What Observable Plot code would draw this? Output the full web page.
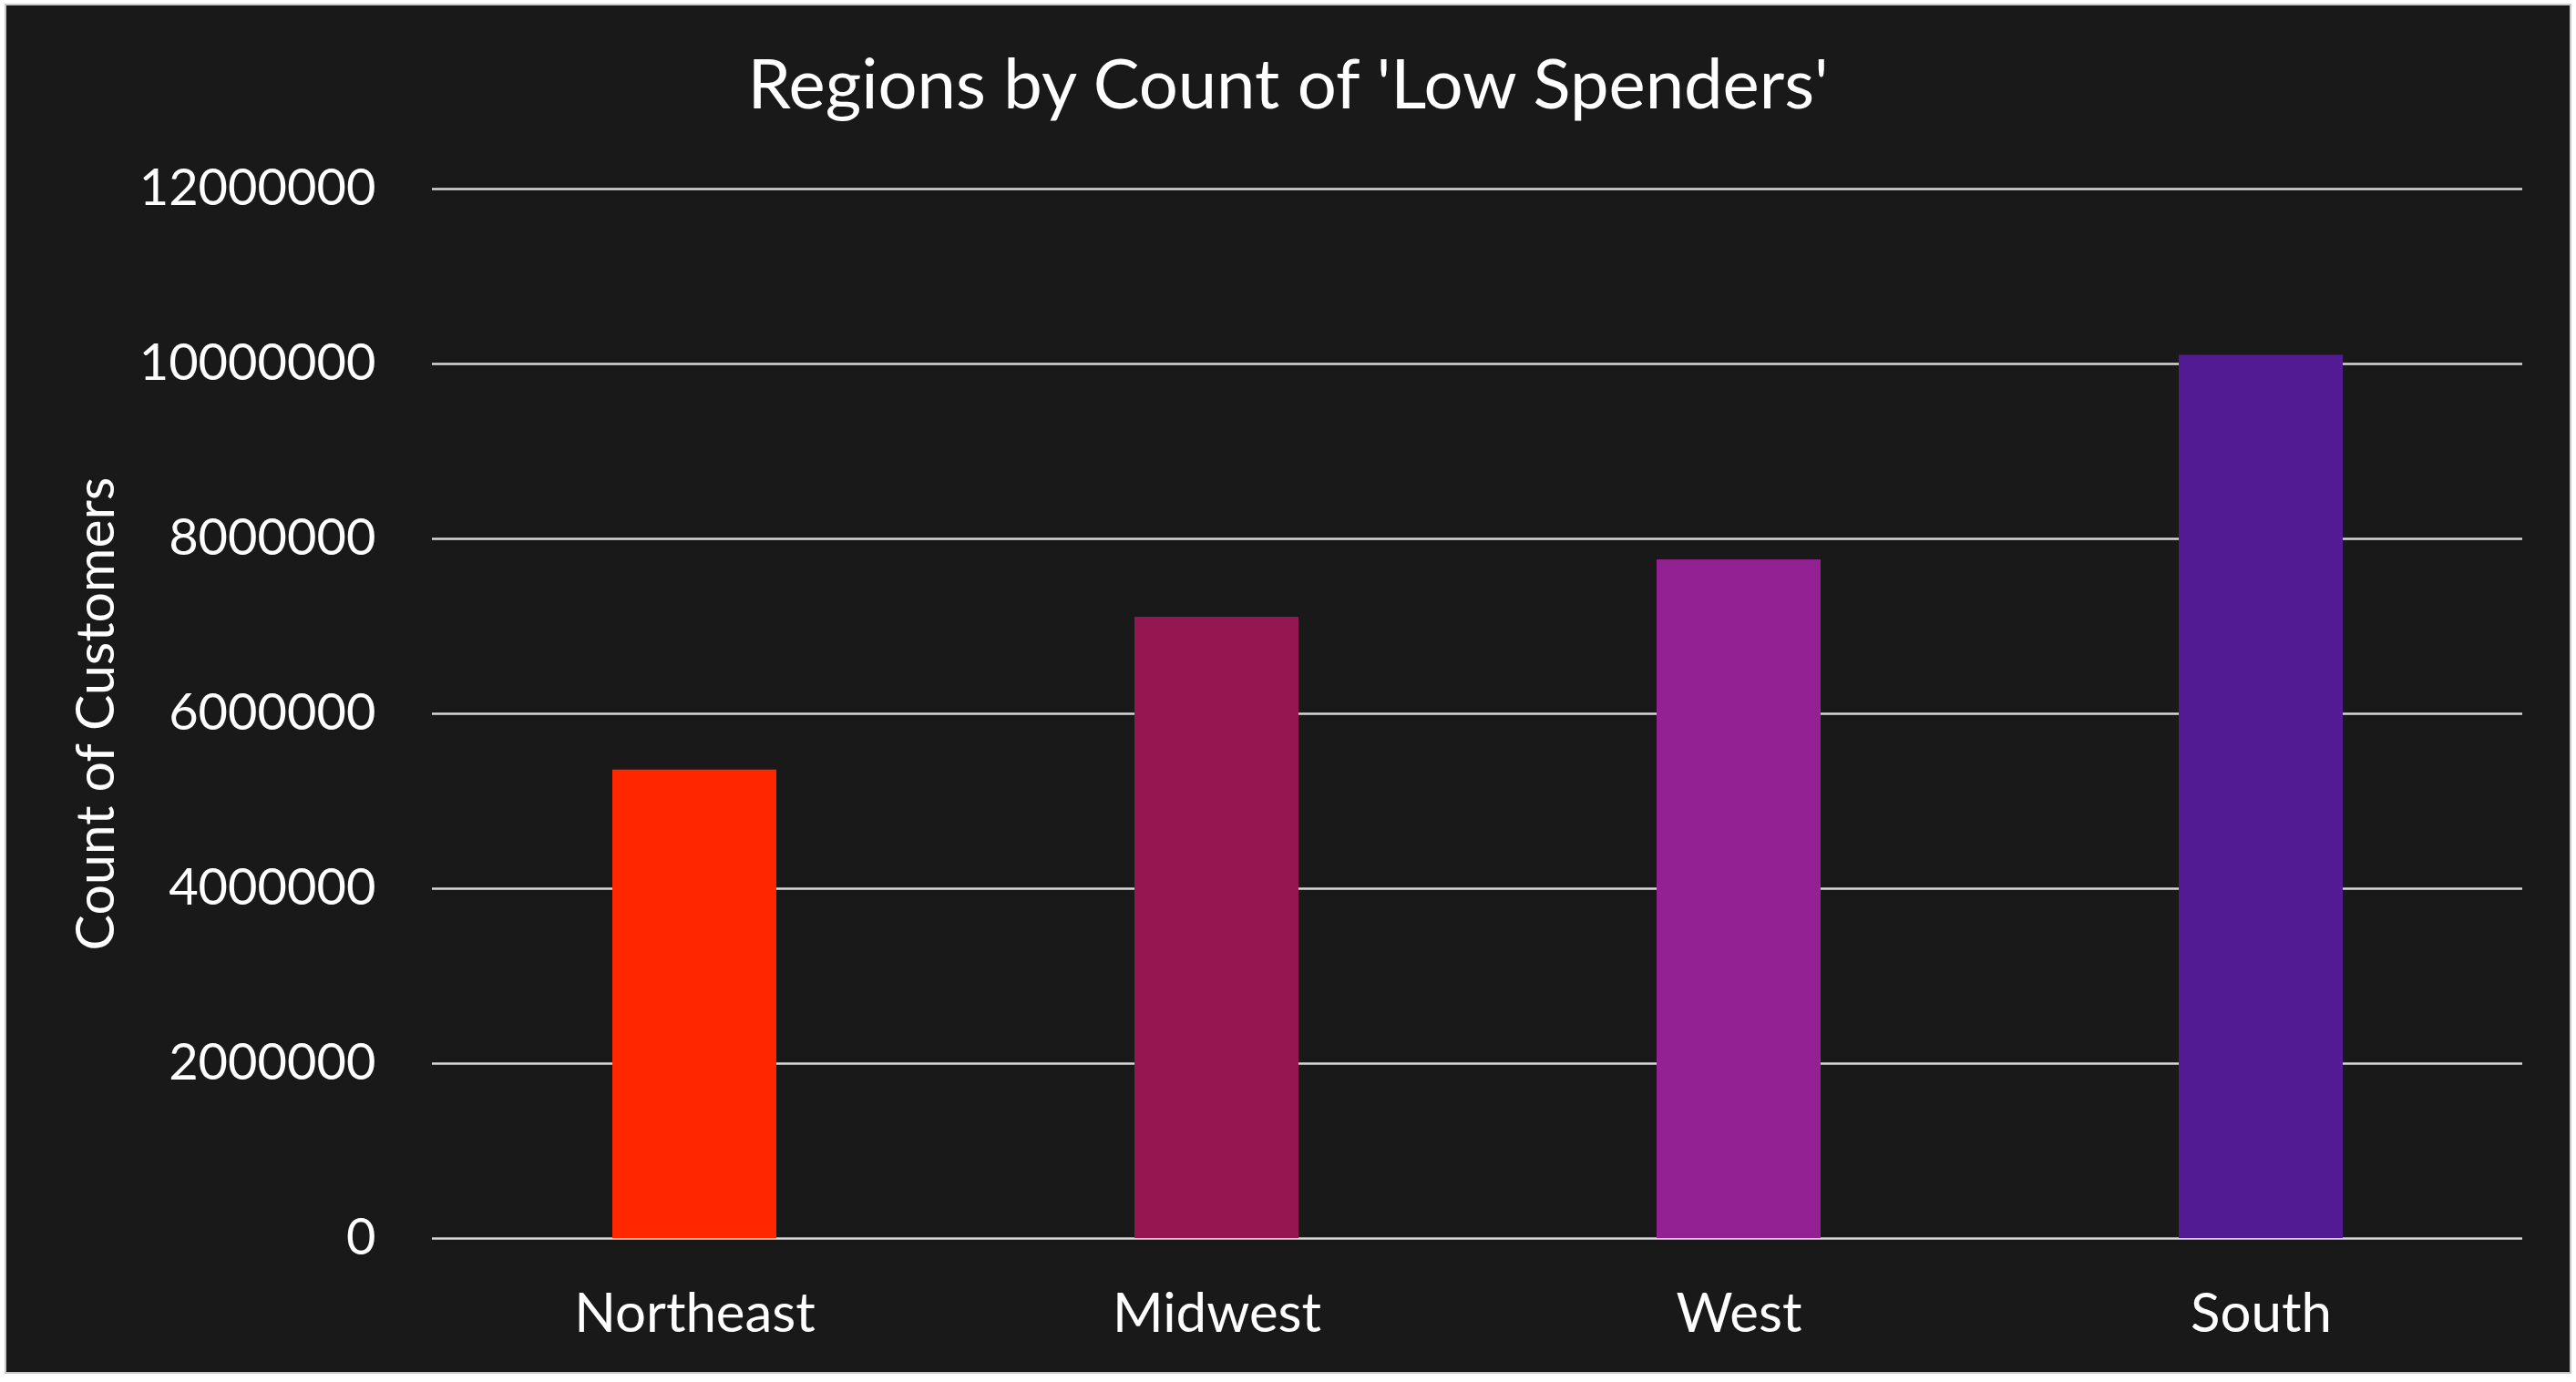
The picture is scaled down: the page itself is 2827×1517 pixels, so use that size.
<!DOCTYPE html>
<html><head><meta charset="utf-8">
<script src="https://cdn.jsdelivr.net/npm/d3@7"></script>
<script src="https://cdn.jsdelivr.net/npm/@observablehq/plot@0.6"></script>
<style>
html,body{margin:0;padding:0;background:#fff;width:2827px;height:1517px;overflow:hidden;}
#frame{position:absolute;left:5px;top:4px;width:2813px;height:1500px;background:#191919;border:2px solid #c8c8c8;}
#title{position:absolute;left:0;top:44px;width:2827px;text-align:center;color:#fff;font-family:Lato,sans-serif;font-size:76px;line-height:1.2;white-space:nowrap;}
#chart{position:absolute;left:0;top:140px;}
</style></head><body>
<div id="frame"></div>
<div id="title">Regions by Count of 'Low Spenders'</div>
<div id="chart"></div>
<script>
const regions = ["Northeast", "Midwest", "West", "South"];
const lowSpenders = [5357000, 7104000, 7760000, 10100000];
const yTicks = [0, 2000000, 4000000, 6000000, 8000000, 10000000, 12000000];
const regionColors = ["#FF2600", "#941751", "#942193", "#531B93"];

const data = regions.map((r, i) => ({region: r, count: lowSpenders[i]}));

const chart = Plot.plot({
  width: 2827,
  height: 1366,
  marginTop: 67,
  marginBottom: 147,
  marginLeft: 474,
  marginRight: 59,
  style: {background: "transparent", color: "#fff", fontFamily: "Lato, sans-serif", fontSize: "56px"},
  x: {domain: regions, paddingInner: 0.686, paddingOuter: 0.343, label: null},
  y: {domain: [0, 12000000], label: "Count of Customers"},
  color: {domain: regions, range: regionColors},
  marks: [
    Plot.gridY(yTicks, {stroke: "#d9d9d9", strokeOpacity: 1, strokeWidth: 2.5}),
    Plot.barY(data, {x: "region", y: "count", fill: "region"}),
    Plot.axisX({tickSize: 0, tickPadding: 60, fontSize: 60, label: null}),
    Plot.axisY(yTicks, {tickSize: 0, tickPadding: 62, tickFormat: d => String(d), fontSize: 56,
      label: "Count of Customers", labelAnchor: "center", labelOffset: 391, labelArrow: "none"})
  ]
});
const yl = chart.querySelector('[aria-label="y-axis label"]');
if (yl) yl.setAttribute("font-size", "59");
document.getElementById("chart").appendChild(chart);
</script>
</body></html>
